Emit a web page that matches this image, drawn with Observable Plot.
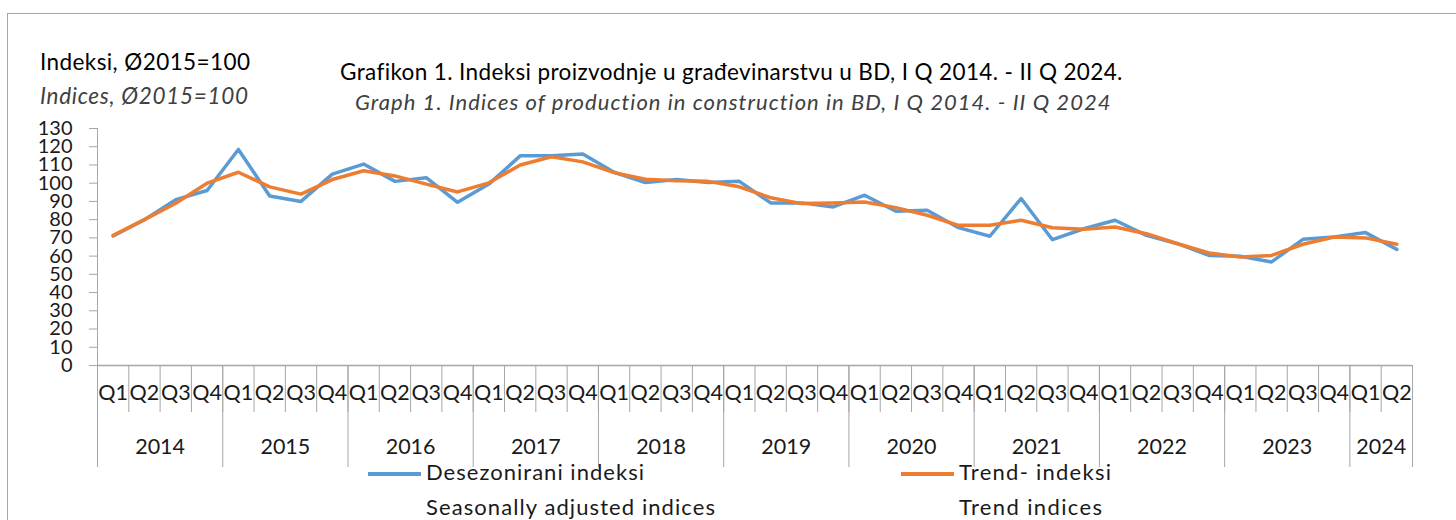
<!DOCTYPE html>
<html>
<head>
<meta charset="utf-8">
<script src="https://cdn.jsdelivr.net/npm/d3@7"></script>
<script src="https://cdn.jsdelivr.net/npm/@observablehq/plot@0.6"></script>
<style>
  body { margin: 0; background: #fff; }
  #wrap { position: relative; width: 1456px; height: 520px; overflow: hidden; font-family: Lato, "Open Sans", sans-serif; color: #000; }
  #wrap svg { position: absolute; left: 0; top: 0; }
  .t { position: absolute; white-space: nowrap; line-height: 1; }
  .frame { position: absolute; left: 7px; top: 13px; width: 1460px; height: 520px; border-left: 1px solid #a6a6a6; border-top: 1px solid #a6a6a6; }
  .sw { position: absolute; height: 4px; }
</style>
</head>
<body>
<div id="wrap"><div class="frame"></div></div>
<script>
// ---- data ----
const years = [2014, 2015, 2016, 2017, 2018, 2019, 2020, 2021, 2022, 2023, 2024];
const quarters = ["Q1", "Q2", "Q3", "Q4"];
const quartersInYear = [4, 4, 4, 4, 4, 4, 4, 4, 4, 4, 2];
const seasonal = [
  71, 80, 91, 96,
  118.5, 93, 90, 105,
  110.5, 101, 103, 89.5,
  99.5, 115, 115, 116,
  106, 100.4, 102, 100.4,
  101, 89.2, 89.2, 87,
  93.4, 84.6, 85.2, 75.6,
  70.9, 91.6, 69, 75,
  79.7, 71.4, 66.8, 60.4,
  59.9, 56.8, 69.2, 70.5,
  72.9, 63.7
];
const trend = [
  71.4, 80, 89, 100,
  106, 98, 94, 102,
  106.8, 104, 99.5, 95.2,
  100.2, 110, 114.5, 111.7,
  105.8, 102.2, 101.3, 101,
  98, 92, 88.8, 89.2,
  89.7, 86.6, 82.4, 76.9,
  76.9, 79.7, 75.6, 74.7,
  76, 72.3, 66.8, 61.7,
  59.5, 60.4, 66.5, 70.5,
  70, 66.5
];
const yTicks = [0, 10, 20, 30, 40, 50, 60, 70, 80, 90, 100, 110, 120, 130];
const seriesNames = ["Desezonirani indeksi", "Trend- indeksi"];
const seriesNamesEn = ["Seasonally adjusted indices", "Trend indices"];
const colors = ["#5b9bd5", "#ed7d31"];

// ---- derived tables ----
const cats = [];
const yearGroups = [];
years.forEach((y, yi) => {
  const start = cats.length;
  for (let k = 0; k < quartersInYear[yi]; k++) cats.push({year: y, q: quarters[k], i: cats.length});
  yearGroups.push({year: y, start: start - 0.5, end: cats.length - 0.5, mid: (start + cats.length - 1) / 2});
});
const n = cats.length;
const rows = [];
cats.forEach((c, i) => {
  rows.push({i, series: seriesNames[0], value: seasonal[i]});
  rows.push({i, series: seriesNames[1], value: trend[i]});
});
const qBounds = d3.range(0, n + 1).map(i => i - 0.5);
const yBounds = [yearGroups[0].start, ...yearGroups.map(g => g.end)];

const axisColor = "#a6a6a6";
const textColor = "#1a1a1a";
const chart = Plot.plot({
  width: 1456,
  height: 520,
  marginLeft: 97,
  marginRight: 44,
  marginTop: 128,
  marginBottom: 155,
  style: {fontFamily: "Lato, 'Open Sans', sans-serif", background: "transparent", overflow: "visible"},
  x: {type: "linear", domain: [-0.5, n - 0.5], axis: null},
  y: {domain: [0, 130], axis: null},
  color: {domain: seriesNames, range: colors},
  marks: [
    Plot.axisY({ticks: yTicks, tickSize: 8, tickPadding: 17, stroke: axisColor, fill: textColor, fontSize: 20, tickFormat: d => String(d), label: null}),
    Plot.ruleX([-0.5], {stroke: axisColor, strokeWidth: 1}),
    Plot.ruleY([0], {stroke: axisColor, strokeWidth: 1.5}),
    Plot.ruleX(qBounds, {x: d => d, y1: 0, y2: 0, insetBottom: -47, stroke: axisColor, strokeWidth: 1}),
    Plot.ruleX(yBounds, {x: d => d, y1: 0, y2: 0, insetBottom: -102, stroke: axisColor, strokeWidth: 1}),
    Plot.text(cats, {x: "i", text: "q", frameAnchor: "bottom", dy: 34, fontSize: 21.5, fill: textColor}),
    Plot.text(yearGroups, {x: "mid", text: d => String(d.year), frameAnchor: "bottom", dy: 88, fontSize: 21.5, fill: textColor}),
    Plot.line(rows, {x: "i", y: "value", stroke: "series", z: "series", strokeWidth: 3.5, strokeLinejoin: "round", strokeLinecap: "round"})
  ]
});
const wrap = document.getElementById("wrap");
wrap.appendChild(chart);

// place a text and adjust its letter spacing so it spans the reference width
function addText(txt, left, top, size, width, opts = {}) {
  const d = document.createElement("div");
  d.className = "t";
  d.textContent = txt;
  d.style.left = left + "px";
  d.style.top = top + "px";
  d.style.fontSize = size + "px";
  if (opts.italic) d.style.fontStyle = "italic";
  if (opts.color) d.style.color = opts.color;
  if (opts.weight) d.style.fontWeight = opts.weight;
  wrap.appendChild(d);
  const w = d.getBoundingClientRect().width;
  const gaps = Math.max(1, txt.length - 1);
  d.style.letterSpacing = ((width - w) / gaps) + "px";
  return d;
}
addText("Indeksi, Ø2015=100", 40, 51, 22.5, 210, {color: "#000"});
addText("Indices, Ø2015=100", 40, 85, 22.5, 208, {italic: true, color: "#404040"});
addText("Grafikon 1. Indeksi proizvodnje u građevinarstvu u BD, I Q 2014. - II Q 2024.", 340, 61, 22.5, 782, {color: "#000"});
addText("Graph 1. Indices of production in construction in BD, I Q 2014. - II Q 2024", 355, 91, 22, 755, {italic: true, color: "#404040"});

// legend
const legendX = [368, 901];
const legendW = [[218, 289], [152, 143]];
seriesNames.forEach((s, k) => {
  const sw = document.createElement("div");
  sw.className = "sw";
  sw.style.left = legendX[k] + "px";
  sw.style.top = "472px";
  sw.style.width = "53px";
  sw.style.background = colors[k];
  wrap.appendChild(sw);
  addText(s, legendX[k] + 58, 461, 22, legendW[k][0], {color: textColor});
  addText(seriesNamesEn[k], legendX[k] + 58, 496, 22, legendW[k][1], {color: textColor});
});
</script>
</body>
</html>
